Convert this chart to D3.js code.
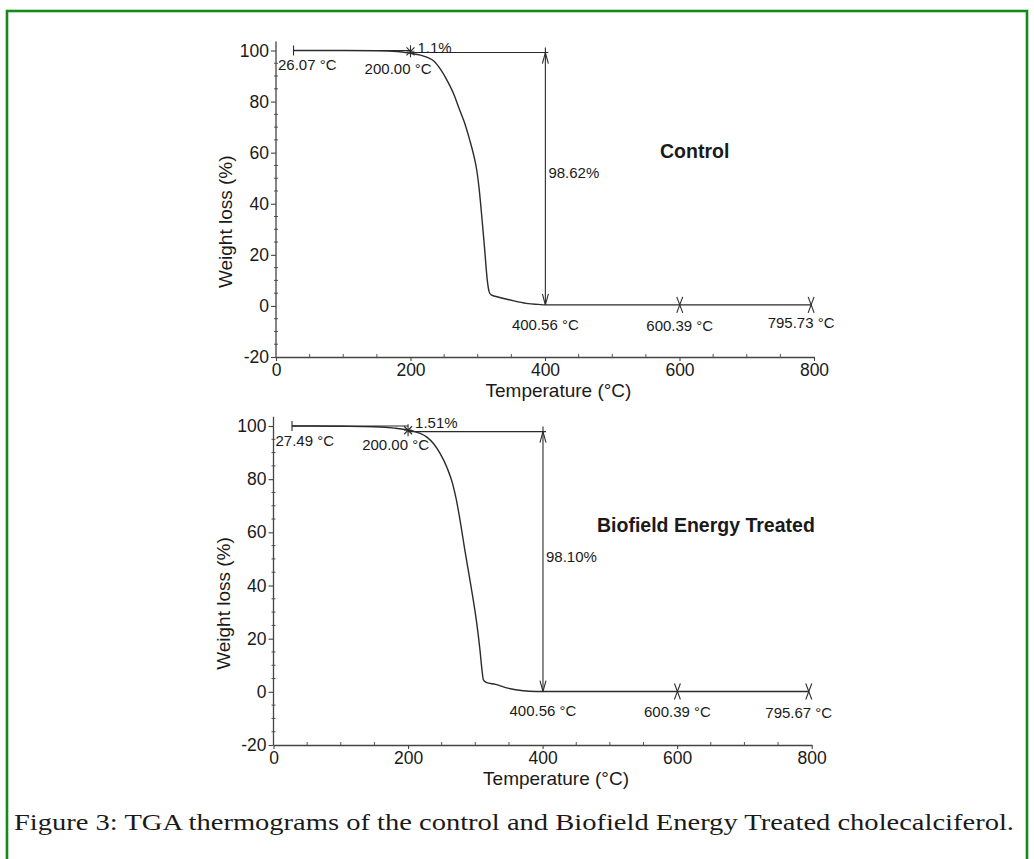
<!DOCTYPE html>
<html>
<head>
<meta charset="utf-8">
<script src="https://cdn.jsdelivr.net/npm/d3@7"></script>
<style>
  html, body { margin: 0; padding: 0; background: #fff; }
  svg { display: block; }
  text { font-family: "Liberation Sans", Arial, sans-serif; fill: #1a1a1a; }
</style>
</head>
<body>
<svg id="chart" width="1034" height="859"></svg>
<script>
// ---------------- DATA ----------------
const tempTicks = [0, 200, 400, 600, 800];
const weightTicks = [-20, 0, 20, 40, 60, 80, 100];
const xAxisTitle = "Temperature (°C)";
const yAxisTitle = "Weight loss (%)";

// Control TGA curve (temperature °C, weight %)
const controlTemp = [26.07, 60, 100, 150, 180, 200, 215, 225, 235, 245, 255, 265, 272, 280, 288, 294, 298, 302, 306, 310, 314, 317, 320, 330, 345, 360, 375, 390, 400.56, 500, 600.39, 700, 795.73];
const controlWeight = [100, 100, 100, 99.9, 99.6, 98.9, 98.2, 97.3, 95.8, 92.5, 88, 82.5, 77.5, 72, 65, 59, 54, 46, 35, 23, 10.5, 5.5, 4.3, 3.5, 2.5, 1.6, 0.9, 0.6, 0.4, 0.4, 0.4, 0.4, 0.4];

// Biofield Energy Treated TGA curve
const treatedTemp = [27.49, 60, 100, 150, 180, 200, 210, 218, 228, 238, 248, 258, 266, 272, 278, 284, 290, 296, 302, 307, 310, 312, 316, 330, 345, 360, 380, 400.56, 500, 600.39, 700, 795.67];
const treatedWeight = [100, 100, 99.9, 99.7, 99.2, 98.5, 97.9, 97.2, 95.8, 93.3, 89.5, 84.3, 78.5, 72, 63.5, 54, 45, 36, 26, 15.5, 8, 4.5, 3.6, 2.8, 1.6, 0.8, 0.2, 0.1, 0.1, 0.1, 0.1, 0.1];

const panelNames = ["Control", "Biofield Energy Treated"];
const onsetTemps = [26.07, 27.49];
const onsetLabels = ["26.07 °C", "27.49 °C"];
const stepTemp = 200;
const stepLabel = "200.00 °C";
const stepLossLabels = ["1.1%", "1.51%"];
const stepLevels = [99.2, 97.9];         // weight % level of the reference line after 200 °C
const totalLossLabels = ["98.62%", "98.10%"];
const residueLevels = [0.4, 0.1];
const markTemps = [[400.56, 600.39, 795.73], [400.56, 600.39, 795.67]];
const markLabels = [["400.56 °C", "600.39 °C", "795.73 °C"], ["400.56 °C", "600.39 °C", "795.67 °C"]];
const caption = "Figure 3: TGA thermograms of the control and Biofield Energy Treated cholecalciferol.";

// ---------------- LAYOUT ----------------
const layout = [
  { x0: 276, x1: 814, yTop: 50.5, yBot: 357, titleX: 660, titleY: 158, lossY: 0 },
  { x0: 273.5, x1: 811.7, yTop: 426, yBot: 745, titleX: 597, titleY: 532, lossY: 3 }
];

const svg = d3.select("#chart");
const ink = "#2b2b2b";
const fmt = d => String(d);

// green frame
svg.append("rect").attr("x", 7).attr("y", 11).attr("width", 1020).attr("height", 900)
  .attr("fill", "none").attr("stroke", "#17891a").attr("stroke-width", 2.6);

const series = [
  { t: controlTemp, w: controlWeight },
  { t: treatedTemp, w: treatedWeight }
];

layout.forEach((L, i) => {
  const x = d3.scaleLinear().domain([0, 800]).range([L.x0, L.x1]);
  const y = d3.scaleLinear().domain([-20, 100]).range([L.yBot, L.yTop]);
  const g = svg.append("g");

  // ---- Y axis ----
  const yAx = g.append("g").attr("transform", `translate(${L.x0},0)`)
    .call(d3.axisLeft(y).tickValues(weightTicks).tickFormat(fmt).tickSize(5).tickSizeOuter(0).tickPadding(2));
  yAx.select(".domain").remove();
  yAx.selectAll("line").attr("stroke", "#444").attr("stroke-width", 1.1);
  yAx.selectAll("text").style("font-size", "17.5px").attr("fill", "#1a1a1a")
    .style("font-family", "'Liberation Sans', Arial, sans-serif");
  // minor y ticks
  g.selectAll(".ymin").data(d3.range(-20, 101, 5).filter(v => v % 20 !== 0)).join("line")
    .attr("x1", L.x0 - 2).attr("x2", L.x0 + 2).attr("y1", d => y(d)).attr("y2", d => y(d))
    .attr("stroke", "#555").attr("stroke-width", 1);
  g.append("line").attr("x1", L.x0).attr("x2", L.x0).attr("y1", y(103.5)).attr("y2", y(-20))
    .attr("stroke", "#444").attr("stroke-width", 1.3);

  // ---- X axis ----
  const xAx = g.append("g").attr("transform", `translate(0,${L.yBot})`)
    .call(d3.axisBottom(x).tickValues(tempTicks).tickFormat(fmt).tickSize(4).tickSizeOuter(0).tickPadding(3));
  xAx.select(".domain").attr("stroke", "#444").attr("stroke-width", 1.3);
  xAx.selectAll("line").attr("stroke", "#444").attr("stroke-width", 1.1);
  xAx.selectAll("text").style("font-size", "17.5px").attr("fill", "#1a1a1a")
    .style("font-family", "'Liberation Sans', Arial, sans-serif");
  g.selectAll(".xmin").data(d3.range(50, 800, 50).filter(v => v % 200 !== 0)).join("line")
    .attr("x1", d => x(d)).attr("x2", d => x(d)).attr("y1", L.yBot).attr("y2", L.yBot - 3)
    .attr("stroke", "#555").attr("stroke-width", 1);

  // axis titles
  g.append("text").attr("x", x(420)).attr("y", L.yBot + 40).attr("text-anchor", "middle")
    .style("font-size", "19px").text(xAxisTitle);
  const yc = (L.yTop + L.yBot) / 2 + 18;
  g.append("text").attr("transform", `translate(${L.x0 - 44},${yc}) rotate(-90)`)
    .attr("text-anchor", "middle").style("font-size", "19px").text(yAxisTitle);

  // ---- curve ----
  const s = series[i];
  const pts = s.t.map((t, k) => [t, s.w[k]]);
  g.append("path").datum(pts)
    .attr("d", d3.line().x(d => x(d[0])).y(d => y(d[1])).curve(d3.curveMonotoneX))
    .attr("fill", "none").attr("stroke", ink).attr("stroke-width", 1.4);

  // ---- annotations ----
  const line = (x1, y1, x2, y2, w = 1.1) => g.append("line")
    .attr("x1", x1).attr("y1", y1).attr("x2", x2).attr("y2", y2)
    .attr("stroke", ink).attr("stroke-width", w);

  // onset "+" and reference line
  const ox = x(onsetTemps[i]), oy = y(100);
  line(ox, oy, x(stepTemp), oy);
  line(ox, oy - 5, ox, oy + 5);
  // star at 200 °C
  const sx = x(stepTemp), sy = y(stepLevels[i] + 0.5);
  line(sx, sy - 6, sx, sy + 6);
  line(sx - 4, sy - 4, sx + 4, sy + 4);
  line(sx - 4, sy + 4, sx + 4, sy - 4);
  line(sx - 4, sy, sx + 4, sy, 0.8);
  // reference line after step
  const ax = x(markTemps[i][0]);
  const topY = y(stepLevels[i]), botY = y(residueLevels[i]);
  line(sx, topY, ax + 3, topY);
  line(ax, topY - 5, ax, topY);
  // double arrow
  line(ax, topY, ax, botY);
  line(ax - 3, topY + 11, ax, topY); line(ax + 3, topY + 11, ax, topY);
  line(ax - 3, botY - 11, ax, botY); line(ax + 3, botY - 11, ax, botY);
  // X marks at 600 and 795
  markTemps[i].slice(1).forEach(t => {
    const mx = x(t), my = y(residueLevels[i]);
    line(mx - 3, my - 8, mx + 3, my + 8);
    line(mx + 3, my - 8, mx - 3, my + 8);
  });

  const ann = (tx, ty, str, anchor = "start") => g.append("text")
    .attr("x", tx).attr("y", ty).attr("text-anchor", anchor)
    .style("font-size", "15px").text(str);

  ann(L.x0 + 2, oy + 19.5, onsetLabels[i]);
  ann(x(stepTemp) + 21, oy + 23.5, stepLabel, "end");
  ann(x(stepTemp) + 7, oy + 2, stepLossLabels[i]);
  ann(ax + 3, y(50) + L.lossY, totalLossLabels[i]);
  ann(x(markTemps[i][0]), y(0) + 24.5, markLabels[i][0], "middle");
  ann(x(markTemps[i][1]), y(0) + 25, markLabels[i][1], "middle");
  ann(x(markTemps[i][2]) - 10, y(0) + (i === 0 ? 22.5 : 26), markLabels[i][2], "middle");

  // panel title
  g.append("text").attr("x", L.titleX).attr("y", L.titleY)
    .style("font-size", "19.5px").style("font-weight", "bold").text(panelNames[i]);
});

// caption
svg.append("text").attr("x", 14).attr("y", 830)
  .attr("textLength", 1000).attr("lengthAdjust", "spacingAndGlyphs")
  .style("font-family", "'Liberation Serif', 'DejaVu Serif', serif")
  .style("font-size", "24px").attr("fill", "#111").text(caption);
</script>
</body>
</html>
